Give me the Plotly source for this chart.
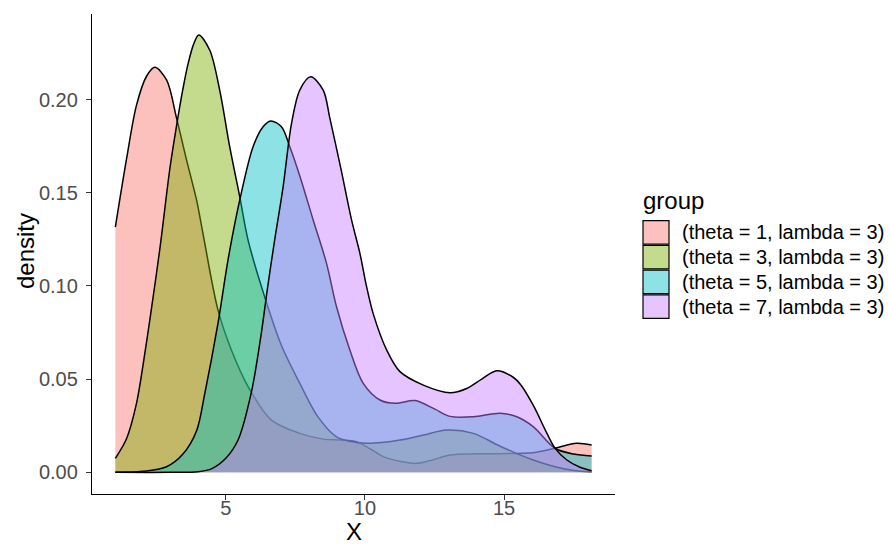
import plotly.graph_objects as go

# ---- data ----
group_labels = ["(theta = 1, lambda = 3)", "(theta = 3, lambda = 3)",
                "(theta = 5, lambda = 3)", "(theta = 7, lambda = 3)"]
group_colors = ["248,118,109", "124,174,0", "0,191,196", "199,124,255"]

theta1_x = [1.03, 1.43, 1.79, 2.15, 2.45, 2.87, 3.23, 3.59, 3.95, 4.18, 4.72, 5.2, 5.8, 6.64,
            7.66, 8.5, 9.1, 9.7, 10.2, 10.66, 11.3, 11.86, 12.4, 13.06, 14.0, 14.86, 16.05,
            16.83, 17.61, 18.15]
theta1_y = [0.1316, 0.168, 0.197, 0.2125, 0.2173, 0.2105, 0.19, 0.1675, 0.146, 0.128, 0.087,
            0.0656, 0.046, 0.028, 0.0209, 0.0178, 0.0173, 0.0164, 0.0125, 0.0084, 0.0058, 0.0048,
            0.0065, 0.0093, 0.0099, 0.0100, 0.0105, 0.0129, 0.0156, 0.0146]

theta3_x = [1.03, 1.43, 1.79, 2.03, 2.3, 2.63, 2.99, 3.23, 3.45, 3.64, 3.85, 4.03, 4.42, 4.78,
            5.14, 5.5, 5.8, 6.4, 7.0, 7.66, 8.3, 8.98, 9.5, 10.06, 10.6, 11.26, 12.1, 12.94,
            13.9, 14.86, 16.05, 16.83, 17.5, 18.15]
theta3_y = [0.0075, 0.018, 0.037, 0.058, 0.085, 0.12, 0.163, 0.186, 0.205, 0.219, 0.230,
            0.2346, 0.2266, 0.2051, 0.1747, 0.1479, 0.1246, 0.094, 0.068, 0.0477, 0.030, 0.019,
            0.0165, 0.0156, 0.0160, 0.0173, 0.020, 0.0227, 0.0209, 0.0140, 0.0066, 0.003, 0.001,
            0.0003]

theta5_x = [1.03, 2.0, 2.87, 3.46, 3.95, 4.24, 4.72, 5.08, 5.5, 5.98, 6.34, 6.61, 7.0, 7.3,
            7.66, 8.14, 8.62, 8.98, 9.45, 9.94, 10.54, 11.1, 11.8, 12.5, 13.06, 13.9, 14.86,
            15.46, 16.05, 16.83, 17.5, 18.15]
theta5_y = [0.0, 0.0005, 0.003, 0.0098, 0.0223, 0.042, 0.08, 0.114, 0.146, 0.1747, 0.1854,
            0.1885, 0.1854, 0.1747, 0.159, 0.1354, 0.1121, 0.0888, 0.066, 0.0477, 0.0388, 0.037,
            0.0385, 0.034, 0.030, 0.0298, 0.0317, 0.0298, 0.0245, 0.0129, 0.0098, 0.0087]

theta7_x = [1.03, 3.0, 4.0, 4.5, 5.0, 5.44, 5.92, 6.28, 6.5, 6.75, 7.06, 7.36, 7.66, 8.05, 8.5,
            8.74, 9.15, 9.52, 9.82, 10.06, 10.3, 10.78, 11.26, 12.1, 13.06, 13.66, 14.2, 14.74,
            15.33, 15.6, 16.05, 16.54, 16.83, 17.26, 17.73, 18.15]
theta7_y = [0.0, 0.0, 0.0003, 0.002, 0.0075, 0.0173, 0.043, 0.075, 0.099, 0.124, 0.1532, 0.187,
            0.2051, 0.2122, 0.2051, 0.190, 0.162, 0.1354, 0.1175, 0.0996, 0.085, 0.0657, 0.054,
            0.0468, 0.0427, 0.045, 0.050, 0.0545, 0.051, 0.047, 0.036, 0.021, 0.013, 0.0066,
            0.0027, 0.0009]

y_tick_vals = [0.0, 0.05, 0.10, 0.15, 0.20]
x_tick_vals = [5, 10, 15]
x_title = "X"
y_title = "density"
legend_title = "group"

series_x = [theta1_x, theta3_x, theta5_x, theta7_x]
series_y = [theta1_y, theta3_y, theta5_y, theta7_y]

ALPHA = 0.45
FONT = "Liberation Sans, Arial, Helvetica, sans-serif"

fig = go.Figure()
for lab, col, xs, ys in zip(group_labels, group_colors, series_x, series_y):
    fig.add_trace(go.Scatter(
        x=xs, y=ys, name=lab, mode="lines",
        line=dict(color="black", width=1.5, shape="spline", smoothing=0.9),
        fill="tozeroy", fillcolor=f"rgba({col},{ALPHA})",
        showlegend=False, hoverinfo="x+y+name"))

# plot area geometry (pixels)
W, H = 889, 544
L, R, T, B = 92, 274, 14, 50
pw, ph = W - L - R, H - T - B

def px2paper_x(px):
    return (px - L) / pw

def py2paper_y(py):
    return (H - B - py) / ph

# manual legend (ggplot style squares)
shapes = []
annotations = []
sq_left, sq_right = 643, 669
sq_top0, sq_step = 220, 24.75
for i, (lab, col) in enumerate(zip(group_labels, group_colors)):
    top = sq_top0 + i * sq_step + 0.6
    bot = sq_top0 + (i + 1) * sq_step - 0.6
    shapes.append(dict(type="rect", xref="paper", yref="paper",
                       x0=px2paper_x(sq_left), x1=px2paper_x(sq_right),
                       y0=py2paper_y(bot), y1=py2paper_y(top),
                       fillcolor=f"rgba({col},{ALPHA})",
                       line=dict(color="black", width=1.2)))
    annotations.append(dict(xref="paper", yref="paper", x=px2paper_x(680),
                            y=py2paper_y((top + bot) / 2), xanchor="left", yanchor="middle",
                            text=lab, showarrow=False,
                            font=dict(family=FONT, size=20, color="black")))
annotations.append(dict(xref="paper", yref="paper", x=px2paper_x(641), y=py2paper_y(201),
                        xanchor="left", yanchor="middle", text=legend_title, showarrow=False,
                        font=dict(family=FONT, size=24, color="black")))
# axis titles
annotations.append(dict(xref="paper", yref="paper", x=0.5, y=py2paper_y(531.5),
                        xanchor="center", yanchor="middle", text=x_title, showarrow=False,
                        font=dict(family=FONT, size=24, color="black")))
annotations.append(dict(xref="paper", yref="paper", x=px2paper_x(25), y=py2paper_y(251),
                        xanchor="center", yanchor="middle", text=y_title, showarrow=False,
                        textangle=-90, font=dict(family=FONT, size=24, color="black")))

fig.update_layout(
    width=W, height=H,
    margin=dict(l=L, r=R, t=T, b=B, pad=0, autoexpand=False),
    paper_bgcolor="white", plot_bgcolor="white",
    font=dict(family=FONT),
    shapes=shapes, annotations=annotations,
    showlegend=False,
    xaxis=dict(range=[0.19, 18.99], tickvals=x_tick_vals, ticks="outside", ticklen=5,
               tickcolor="#333333", tickwidth=1.3, automargin=False, ticklabelstandoff=-9,
               tickfont=dict(size=20, color="#4D4D4D", family=FONT),
               showline=True, linecolor="black", linewidth=1.3,
               showgrid=False, zeroline=False),
    yaxis=dict(range=[-0.01164, 0.2459], tickvals=y_tick_vals, tickformat=".2f",
               ticks="outside", ticklen=5, tickcolor="#333333", tickwidth=1.3,
               automargin=False, ticklabelstandoff=4,
               tickfont=dict(size=20, color="#4D4D4D", family=FONT),
               showline=True, linecolor="black", linewidth=1.3,
               showgrid=False, zeroline=False),
)

fig.write_html("out.html")
